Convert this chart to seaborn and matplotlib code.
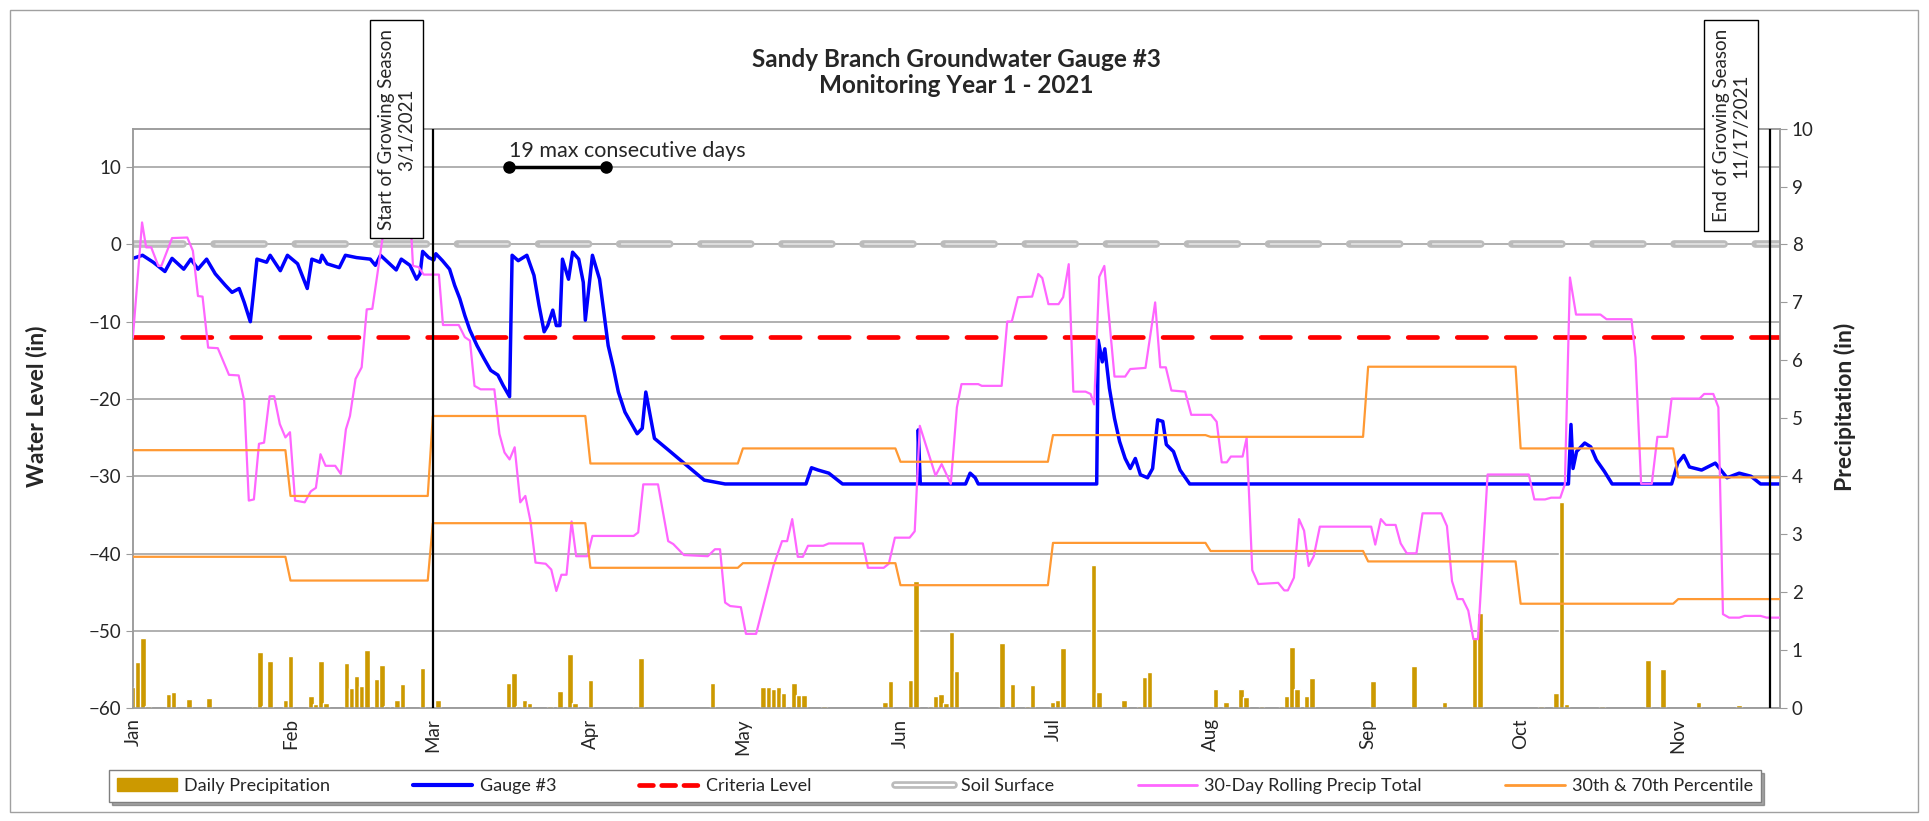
import numpy as np
import pandas as pd
import matplotlib
matplotlib.use('Agg')
import matplotlib.pyplot as plt
import matplotlib.dates as mdates
import matplotlib.transforms as mtransforms
from matplotlib.lines import Line2D
from matplotlib.patches import Patch, Rectangle
import seaborn as sns

# ---- data (days counted from 1 Jan 2021) ----
start = pd.Timestamp('2021-01-01')
end_day = 324

gauge_day = [0, 1.9, 4, 6.3, 7.7, 10, 11.4, 12.8, 14.5, 16.2, 18.2, 19.5, 20.9, 21.9, 23.1, 23.6,
             24.4, 26.3, 27, 29, 30.4, 32.4, 34.3, 35.2, 36.8, 37.2, 38.2, 40.6, 41.8, 44, 46.7,
             47.7, 48.7, 51.8, 52.8, 54.5, 55.8, 56.5, 57, 58.2, 59.2, 59.6, 60.9, 62.3, 63.3,
             64.3, 65.3, 66.3, 67.7, 69.1, 70.4, 71.8, 72.8, 74.1, 74.6, 75.8, 77.5, 78.9, 79.9,
             80.9, 81.6, 82.6, 83.3, 84.0, 84.5, 85.7, 86.5, 87.7, 88.6, 89.0, 90.4, 91.8, 92.8,
             93.5, 94.5, 95.5, 96.8, 99.2, 100.2, 100.9, 102.6, 105.7, 108.4, 112.4, 116.5,
             132.4, 133.5, 134.8, 136.9, 139.6, 154.4, 154.5, 154.9, 163.8, 164.7, 165.7, 166.3,
             189.6, 189.9, 190.7, 191.2, 192.1, 193.1, 194.1, 195.2, 196.2, 197.2, 198.2, 199.6,
             200.6, 201.6, 202.6, 203.3, 204.7, 206.0, 207.9, 282.4, 282.9, 283.3, 284.0, 285.6,
             286.8, 287.9, 289.5, 291.0, 302.7, 303.9, 305.1, 306.2, 308.6, 311.3, 313.6, 316.0,
             318.3, 320.2, 324.0]
gauge_wl = [-1.8, -1.4, -2.3, -3.5, -1.8, -3.2, -1.9, -3.2, -1.9, -3.8, -5.3, -6.2, -5.7, -7.5, -10, -7,
            -1.9, -2.3, -1.4, -3.4, -1.4, -2.5, -5.7, -1.9, -2.3, -1.4, -2.5, -3, -1.4, -1.7, -1.9,
            -2.7, -1.4, -3.3, -1.9, -2.7, -4.5, -3.8, -0.9, -1.7, -2.0, -1.2, -2.1, -3.2, -5.3,
            -7, -9.2, -11.1, -13.1, -14.8, -16.3, -16.9, -18.2, -19.7, -1.4, -2.1, -1.4, -4, -7.9,
            -11.3, -10.5, -8.5, -10.5, -10.5, -1.9, -4.5, -1.0, -1.9, -4.9, -9.8, -1.4, -4.5, -9.6,
            -13.1, -15.9, -19.1, -21.7, -24.5, -23.8, -19.1, -25.1, -26.8, -28.3, -30.5, -31.0,
            -31.0, -28.9, -29.2, -29.6, -31.0, -31.0, -24.0, -31.0, -31.0, -29.6, -30.2, -31.0,
            -31.0, -12.4, -15.2, -13.5, -18.6, -22.5, -25.5, -27.7, -29.0, -27.7, -29.8, -30.2,
            -29.0, -22.7, -22.9, -25.9, -26.8, -29.2, -31.0, -31.0, -23.3, -29.0, -26.8, -25.7,
            -26.2, -27.9, -29.4, -31.0, -31.0, -28.3, -27.3, -28.8, -29.2, -28.3, -30.2, -29.6,
            -30.0, -31.0, -31.0]

rain_day = [0, 1, 2, 3, 7, 8, 11, 15, 24, 25, 26, 27, 30, 31, 35, 36, 37, 38, 42, 43, 44, 45, 46,
            48, 49, 50, 52, 53, 57, 60, 74, 75, 76, 77, 78, 82, 84, 86, 87, 90, 99, 100, 114,
            124, 125, 126, 127, 128, 130, 131, 132, 136, 148, 149, 153, 154, 157, 158, 159, 160,
            161, 162, 171, 173, 176, 177, 181, 182, 183, 189, 190, 195, 198, 199, 200, 213, 215,
            218, 219, 222, 226, 227, 228, 229, 231, 232, 244, 252, 258, 264, 265, 277, 280, 281,
            282, 289, 298, 301, 308, 316]
rain_in = [0.36, 0.79, 1.20, 0.04, 0.24, 0.27, 0.16, 0.17, 0.04, 0.96, 0.04, 0.82, 0.13, 0.89, 0.20,
           0.07, 0.82, 0.08, 0.77, 0.34, 0.56, 0.38, 1.0, 0.50, 0.75, 0.03, 0.13, 0.41, 0.69, 0.13,
           0.43, 0.60, 0.04, 0.14, 0.08, 0.03, 0.30, 0.94, 0.09, 0.49, 0.04, 0.86, 0.43,
           0.37, 0.37, 0.33, 0.36, 0.26, 0.44, 0.22, 0.22, 0.04, 0.10, 0.46, 0.48, 2.20, 0.04,
           0.20, 0.25, 0.08, 1.31, 0.64, 1.12, 0.42, 0.03, 0.40, 0.10, 0.13, 1.04, 2.46, 0.27,
           0.13, 0.03, 0.53, 0.63, 0.33, 0.11, 0.32, 0.19, 0.03, 0.03, 0.20, 1.05, 0.33, 0.20,
           0.52, 0.46, 0.72, 0.10, 1.23, 1.64, 0.04, 0.26, 3.55, 0.07, 0.04, 0.83, 0.67, 0.11, 0.06]

roll_day = [0, 1.8, 2.6, 3.6, 5.0, 5.6, 7.7, 10.7, 11.8, 12.8, 13.7, 14.8, 16.7, 18.9, 20.8, 21.9,
            22.8, 23.8, 24.8, 25.8, 26.9, 27.8, 28.9, 30.0, 30.9, 31.9, 33.8, 35.0, 36.0, 36.9,
            37.9, 39.8, 40.9, 41.9, 42.7, 43.8, 45.0, 46.0, 47.1, 48.0, 49.1, 50.0, 54.5, 55.1,
            56.2, 57.2, 60.2, 61.0, 64.1, 65.3, 66.3, 67.2, 68.4, 71.1, 72.1, 73.1, 74.1, 75.1,
            76.2, 77.2, 78.2, 79.2, 81.2, 82.3, 83.3, 84.3, 85.3, 86.3, 87.2, 89.4, 90.4, 98.5,
            99.4, 100.4, 103.3, 105.3, 106.3, 108.4, 113.1, 114.5, 115.5, 116.5, 117.5, 119.6,
            120.6, 122.6, 126.0, 127.7, 128.7, 129.7, 130.8, 131.8, 132.8, 135.8, 136.9, 143.6,
            144.6, 147.7, 148.7, 149.9, 152.8, 153.8, 154.8, 157.9, 159.1, 160.9, 162.1, 163.0,
            166.3, 167.0, 170.9, 172.0, 172.9, 174.1, 176.9, 178.1, 178.9, 180.1, 182.1, 183.0,
            184.1, 185.0, 187.4, 188.4, 189.1, 190.1, 191.1, 193.1, 195.2, 196.2, 199.2, 201.1,
            202.1, 203.2, 204.3, 207.0, 208.2, 212.1, 213.2, 214.2, 215.2, 216.0, 218.3, 219.1,
            220.2, 221.4, 225.3, 226.5, 227.2, 228.4, 229.4, 230.4, 231.3, 232.3, 233.5, 243.6,
            244.4, 245.5, 246.5, 248.4, 249.4, 250.6, 252.5, 253.7, 257.4, 258.5, 259.5, 260.6,
            261.6, 262.7, 263.7, 264.6, 266.5, 274.6, 275.7, 277.8, 279.0, 280.8, 281.7, 282.7,
            283.9, 288.7, 289.9, 294.8, 295.6, 296.7, 298.8, 299.9, 301.8, 302.7, 308.2, 309.1,
            310.9, 311.9, 312.8, 314.0, 316.0, 317.1, 320.2, 321.4, 324.0]
roll_in = [6.4, 8.38, 7.95, 7.95, 7.63, 7.63, 8.11, 8.12, 7.89, 7.11, 7.10, 6.22, 6.21, 5.75, 5.74, 5.30,
           3.58, 3.60, 4.56, 4.58, 5.38, 5.38, 4.90, 4.67, 4.76, 3.58, 3.55, 3.74, 3.80, 4.38,
           4.18, 4.18, 4.04, 4.81, 5.04, 5.68, 5.88, 6.88, 6.89, 7.43, 8.11, 8.60, 8.60, 7.63,
           7.61, 7.48, 7.48, 6.61, 6.61, 6.40, 6.34, 5.56, 5.50, 5.50, 4.73, 4.41, 4.29, 4.50,
           3.55, 3.66, 3.23, 2.51, 2.49, 2.39, 2.02, 2.30, 2.30, 3.22, 2.62, 2.62, 2.97, 2.97,
           3.03, 3.86, 3.86, 2.88, 2.83, 2.64, 2.62, 2.74, 2.74, 1.82, 1.76, 1.74,
           1.28, 1.28, 2.45, 2.88, 2.88, 3.26, 2.61, 2.61, 2.80, 2.80, 2.84, 2.84,
           2.42, 2.42, 2.49, 2.94, 2.94, 3.05, 4.87, 4.01, 4.21, 3.87, 5.19, 5.59,
           5.59, 5.56, 5.56, 6.67, 6.67, 7.09, 7.10, 7.49, 7.42, 6.97, 6.97, 7.09,
           7.66, 5.46, 5.46, 5.42, 5.24, 7.44, 7.63, 5.72, 5.72, 5.85, 5.87, 7.0,
           5.88, 5.88, 5.48, 5.46, 5.06, 5.06, 4.94, 4.24, 4.24, 4.34, 4.34, 4.66,
           2.38, 2.14, 2.16, 2.03, 2.03, 2.25, 3.26, 3.06, 2.45, 2.62, 3.13, 3.13,
           2.82, 3.26, 3.16, 3.16, 2.84, 2.67, 2.67, 3.36, 3.36, 3.14, 2.19, 1.88,
           1.88, 1.68, 1.19, 1.19, 4.03, 4.03, 3.60, 3.60, 3.63, 3.63, 3.86, 7.43,
           6.79, 6.79, 6.71, 6.71, 6.05, 3.87, 3.87, 4.68, 4.68, 5.34, 5.34, 5.42,
           5.42, 5.19, 1.62, 1.56, 1.56, 1.59, 1.59, 1.56, 1.56]

month_start = [0, 31, 59, 90, 120, 151, 181, 212, 243, 273, 304]
p70 = [4.45, 3.66, 5.04, 4.22, 4.48, 4.25, 4.71, 4.68, 5.89, 4.48, 3.98]
p30 = [2.61, 2.20, 3.19, 2.42, 2.50, 2.12, 2.85, 2.71, 2.53, 1.80, 1.88]

criteria_wl = -12
soil_wl = 0
streak_days = [74, 93]
streak_wl = 10
season_start_day = 59   # 3/1/2021
season_end_day = 322    # line drawn at end of growing season


def to_dates(days):
    return start + pd.to_timedelta(np.asarray(days, dtype=float), unit='D')


def step_points(starts, vals, last):
    xs, ys = [], []
    ends = [s - 1 for s in starts[1:]] + [last]
    for s, e, v in zip(starts, ends, vals):
        xs += [s, e]
        ys += [v, v]
    return xs, ys


sns.set_style('white')
plt.rcParams['font.family'] = ['Lato', 'DejaVu Sans']
plt.rcParams['lines.scale_dashes'] = False

GRID = '#9b9b9b'
BLUE = '#0000FF'
PINK = '#FF66FF'
ORANGE = '#FF9933'
GOLD = '#CC9900'

fig = plt.figure(figsize=(19.29, 8.21), dpi=100)
ax = fig.add_axes([0.0689, 0.1376, 0.8538, 0.7058])
ax2 = ax.twinx()

# ---- left axis: water level ----
for v in range(-60, 11, 10):
    ax.axhline(v, color=GRID, lw=1.1, zorder=0)
ax.axhline(soil_wl, color='#BBBBBB', lw=5.5, dashes=(36, 22.4), dash_capstyle='round', zorder=2)
ax.axhline(soil_wl, color='#E4E4E4', lw=1.2, linestyle=(57.0, (35, 23.4)), dash_capstyle='round', zorder=2)
ax.axhline(criteria_wl, color='red', lw=3.4, dashes=(21.1, 14.2), dash_capstyle='round', zorder=3)
sns.lineplot(x=to_dates(gauge_day), y=gauge_wl, ax=ax, color=BLUE, lw=2.5, estimator=None, zorder=4)
ax.plot(to_dates(streak_days), [streak_wl] * 2, color='black', lw=2.5, marker='o', ms=8, zorder=5)
ax.text(to_dates([streak_days[0]])[0], streak_wl + 0.8, '19 max consecutive days',
        fontsize=15.5, ha='left', va='bottom')

ax.set_ylim(-60, 15)
ax.set_yticks(range(-60, 11, 10))
ax.set_ylabel('')

# ---- right axis: precipitation ----
ax2.bar(to_dates(rain_day), rain_in, width=1.1, color=GOLD, zorder=2)
sns.lineplot(x=to_dates(roll_day), y=roll_in, ax=ax2, color=PINK, lw=1.6, estimator=None, zorder=3)
px, py = step_points(month_start, p70, end_day)
sns.lineplot(x=to_dates(px), y=py, ax=ax2, color=ORANGE, lw=1.6, estimator=None, zorder=3)
px, py = step_points(month_start, p30, end_day)
sns.lineplot(x=to_dates(px), y=py, ax=ax2, color=ORANGE, lw=1.6, estimator=None, zorder=3)
ax2.set_ylim(0, 10)
ax2.set_yticks(range(0, 11))
ax2.set_ylabel('')

for d in (season_start_day, season_end_day):
    ax2.axvline(to_dates([d])[0], color='black', lw=1.6, zorder=6)

trans = mtransforms.blended_transform_factory(ax2.transData, ax2.transAxes)
x0 = mdates.date2num(start)
box = dict(boxstyle='square,pad=0.45', fc='white', ec='black', lw=1)
ax2.text(x0 + 55.5, 1.172, 'Start of Growing Season\n3/1/2021', rotation=90, ha='right', va='top',
         multialignment='center', fontsize=13.5, transform=trans, bbox=box, zorder=20, clip_on=False)
ax2.text(x0 + 318.0, 1.172, 'End of Growing Season\n11/17/2021', rotation=90, ha='right', va='top',
         multialignment='center', fontsize=13.5, transform=trans, bbox=box, zorder=20, clip_on=False)

# ---- x axis ----
ax.set_xlim(start, start + pd.Timedelta(days=end_day))
ax.xaxis.set_major_locator(mdates.MonthLocator())
ax.xaxis.set_major_formatter(mdates.DateFormatter('%b'))
ax.set_xlabel('')
for lab in ax.get_xticklabels():
    lab.set_rotation(90)

for a in (ax, ax2):
    for s in a.spines.values():
        s.set_color(GRID)
        s.set_linewidth(1.1)
ax.tick_params(axis='both', labelsize=13.5, color=GRID, length=5, direction='out')
ax.tick_params(axis='x', direction='inout', length=8)
ax2.tick_params(axis='y', labelsize=13.5, color=GRID, length=5, direction='out')

# ---- titles and labels ----
fig.text(0.4959, 0.912, 'Sandy Branch Groundwater Gauge #3\nMonitoring Year 1 - 2021',
         ha='center', va='center', fontsize=17.5, fontweight='bold', linespacing=1.15)
fig.text(0.019, 0.505, 'Water Level (in)', rotation=90, ha='center', va='center',
         fontsize=16.5, fontweight='bold')
fig.text(0.9565, 0.505, 'Precipitation (in)', rotation=90, ha='center', va='center',
         fontsize=16.5, fontweight='bold')

# ---- legend ----
handles = [
    Patch(facecolor=GOLD, edgecolor=GOLD),
    Line2D([], [], color=BLUE, lw=3),
    Line2D([], [], color='red', lw=3.4, dashes=(10, 6), dash_capstyle='round'),
    (Line2D([], [], color='#BBBBBB', lw=5.5), Line2D([], [], color='white', lw=1.6)),
    Line2D([], [], color=PINK, lw=2),
    Line2D([], [], color=ORANGE, lw=2),
]
labels = ['Daily Precipitation', 'Gauge #3', 'Criteria Level', 'Soil Surface',
          '30-Day Rolling Precip Total', '30th & 70th Percentile']
leg = fig.legend(handles, labels, loc='center', bbox_to_anchor=(0.4847, 0.0426),
                 ncol=6, frameon=True, fancybox=False, shadow=True,
                 edgecolor='#7f7f7f', fontsize=13, handlelength=3.3, columnspacing=4.6,
                 handletextpad=0.4, borderpad=0.45)
leg.get_frame().set_linewidth(1)

fig.patches.append(Rectangle((0.0052, 0.011), 0.989, 0.977, transform=fig.transFigure,
                             fill=False, edgecolor='#a0a0a0', lw=1))

fig.savefig('out.png', dpi=100)
